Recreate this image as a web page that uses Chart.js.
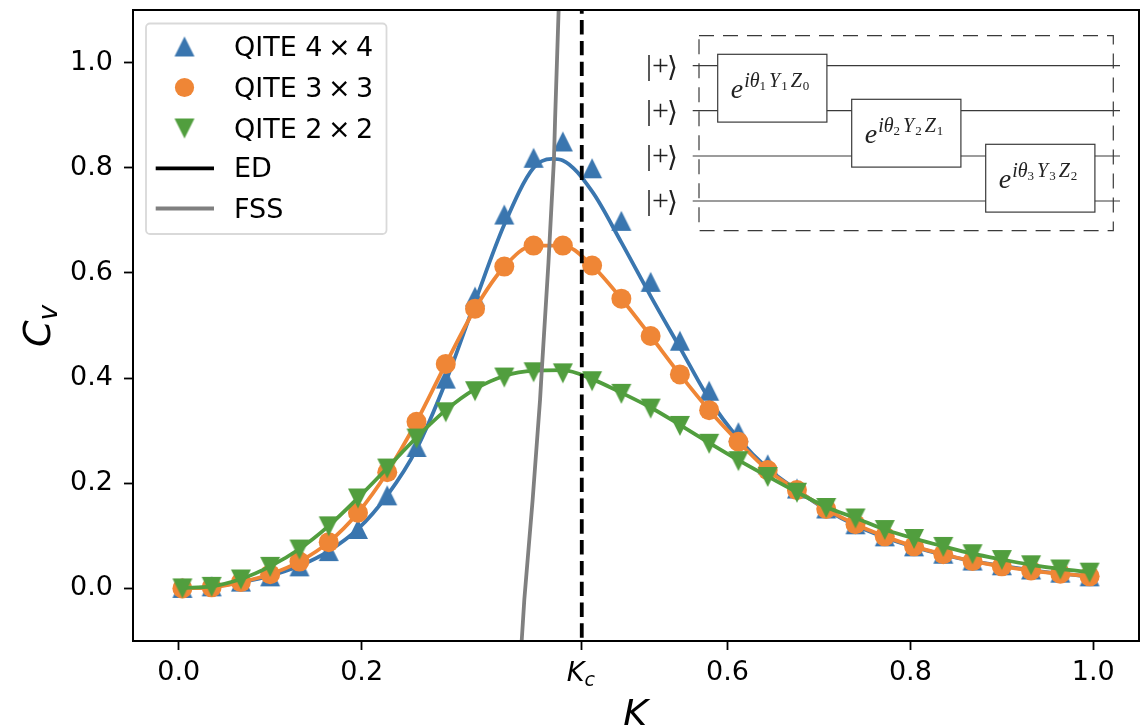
<!DOCTYPE html>
<html>
<head>
<meta charset="utf-8">
<title>Cv vs K</title>
<script src="https://cdn.jsdelivr.net/npm/chart.js@4/dist/chart.umd.js"></script>
<style>
  html, body { margin: 0; padding: 0; background: #fff; }
  canvas { display: block; }
</style>
</head>
<body>
<canvas id="cvChart" width="1148" height="725"></canvas>
<script>
// values
const kValues = [0.004, 0.036, 0.068, 0.100, 0.132, 0.164, 0.196, 0.228, 0.260, 0.292, 0.324,
  0.356, 0.388, 0.420, 0.452, 0.484, 0.516, 0.548, 0.580, 0.612, 0.644, 0.676,
  0.708, 0.740, 0.772, 0.804, 0.836, 0.868, 0.900, 0.932, 0.964, 0.996];

const qite4 = [0.001, 0.004, 0.013, 0.023, 0.042, 0.071, 0.113, 0.177, 0.269, 0.399, 0.555,
  0.711, 0.819, 0.850, 0.799, 0.699, 0.583, 0.471, 0.376, 0.297, 0.236, 0.190,
  0.152, 0.122, 0.099, 0.080, 0.066, 0.053, 0.044, 0.036, 0.030, 0.023];
const qite3 = [0.000, 0.002, 0.012, 0.027, 0.051, 0.088, 0.144, 0.221, 0.317, 0.427, 0.532,
  0.612, 0.652, 0.652, 0.614, 0.551, 0.480, 0.407, 0.339, 0.279, 0.225, 0.187,
  0.151, 0.122, 0.099, 0.080, 0.065, 0.052, 0.042, 0.034, 0.028, 0.023];
const qite2 = [0.000, 0.003, 0.017, 0.041, 0.074, 0.118, 0.171, 0.228, 0.285, 0.335, 0.375,
  0.401, 0.411, 0.409, 0.394, 0.370, 0.342, 0.309, 0.275, 0.242, 0.212, 0.182,
  0.153, 0.133, 0.111, 0.094, 0.079, 0.065, 0.054, 0.044, 0.036, 0.030];

// exact diagonalisation curves
const edK4 = [0.004, 0.036, 0.068, 0.100, 0.132, 0.164, 0.196, 0.228, 0.260, 0.292, 0.324,
  0.356, 0.388, 0.408, 0.420, 0.452, 0.484, 0.516, 0.548, 0.580, 0.612, 0.644, 0.676,
  0.708, 0.740, 0.772, 0.804, 0.836, 0.868, 0.900, 0.932, 0.964, 0.996];
const ed4 = [0.000, 0.003, 0.012, 0.024, 0.043, 0.071, 0.113, 0.177, 0.265, 0.393, 0.545,
  0.692, 0.800, 0.817, 0.814, 0.755, 0.658, 0.556, 0.458, 0.360, 0.285, 0.228, 0.187,
  0.150, 0.120, 0.097, 0.079, 0.064, 0.052, 0.043, 0.035, 0.028, 0.023];
const ed3 = qite3;
const ed2 = [0.001, 0.004, 0.018, 0.042, 0.075, 0.119, 0.172, 0.229, 0.287, 0.339, 0.379,
  0.404, 0.414, 0.415, 0.398, 0.372, 0.344, 0.311, 0.277, 0.244, 0.213, 0.183,
  0.155, 0.134, 0.112, 0.095, 0.080, 0.066, 0.055, 0.045, 0.037, 0.031];

// finite size scaling line, K as a function of Cv
const fssK = [0.375, 0.3779, 0.387, 0.3951, 0.3968, 0.4043, 0.4103, 0.4115, 0.4154];
const fssCv = [-0.1, -0.021, 0.169, 0.359, 0.41, 0.62, 0.817, 0.89, 1.1];

const kCritical = 0.4407;
const xTicks = [0, 0.2, kCritical, 0.6, 0.8, 1.0];
const xTickLabels = ["0.0", "0.2", "", "0.6", "0.8", "1.0"];
const yTicks = [0, 0.2, 0.4, 0.6, 0.8, 1.0];
const legendLabels = ["QITE 4\u2009×\u20094", "QITE 3\u2009×\u20093", "QITE 2\u2009×\u20092", "ED", "FSS"];

const BLUE = "#3a76af";
const ORANGE = "#ef8636";
const GREEN = "#519e3e";
const GRAY = "#808080";
const SANS = "'DejaVu Sans'";

function toPoints(xs, ys) {
  return xs.map((x, i) => ({ x: x, y: ys[i] }));
}

// triangle markers, as wide as they are tall and centred like the originals
function triangleMarker(color, up) {
  const c = document.createElement("canvas");
  c.width = 22;
  c.height = 22;
  const g = c.getContext("2d");
  g.fillStyle = color;
  g.beginPath();
  if (up) {
    g.moveTo(11, 1); g.lineTo(21, 21); g.lineTo(1, 21);
  } else {
    g.moveTo(11, 21); g.lineTo(1, 1); g.lineTo(21, 1);
  }
  g.closePath();
  g.fill();
  return c;
}
const markerUp = triangleMarker(BLUE, true);
const markerDown = triangleMarker(GREEN, false);

function lineSet(label, pts, color, order) {
  return {
    label: label, data: pts, order: order,
    showLine: true, pointRadius: 0,
    borderColor: color, borderWidth: 3.8,
    cubicInterpolationMode: "monotone"
  };
}
function markerSet(label, pts, color, style, order) {
  return {
    label: label, data: pts, order: order,
    showLine: false, pointStyle: style, pointRadius: 10,
    pointBackgroundColor: color, pointBorderColor: color, pointBorderWidth: 0
  };
}

// ─── text with sub and superscripts, drawn left to right ───
function drawRuns(ctx, x, y, runs) {
  runs.forEach(r => {
    ctx.font = r.font;
    ctx.fillText(r.t, x, y - (r.up || 0));
    x += ctx.measureText(r.t).width + (r.gap || 0);
  });
}

// ─── axis labels and the Kc tick label ───
const axisText = {
  id: "axisText",
  afterDraw(chart) {
    const ctx = chart.ctx;
    const area = chart.chartArea;
    ctx.save();
    ctx.fillStyle = "#000";
    ctx.textAlign = "left";
    ctx.textBaseline = "alphabetic";

    const kcX = chart.scales.x.getPixelForValue(kCritical);
    drawRuns(ctx, kcX - 15, 680.5, [
      { t: "K", font: "italic 27px " + SANS },
      { t: "c", font: "italic 19px " + SANS, up: -5 }
    ]);

    ctx.font = "italic 38px " + SANS;
    ctx.fillText("K", (area.left + area.right) / 2 - 13, 726);

    ctx.translate(50, 347);
    ctx.rotate(-Math.PI / 2);
    drawRuns(ctx, 0, 0, [
      { t: "C", font: "italic 38px " + SANS },
      { t: "v", font: "italic 26.6px " + SANS, up: -7 }
    ]);
    ctx.restore();
  }
};

// ─── top and right spines ───
const frame = {
  id: "frame",
  afterDatasetsDraw(chart) {
    const a = chart.chartArea;
    const ctx = chart.ctx;
    ctx.save();
    ctx.strokeStyle = "#000";
    ctx.lineWidth = 2;
    ctx.strokeRect(a.left, a.top, a.right - a.left, a.bottom - a.top);
    ctx.restore();
  }
};

// ─── legend box ───
const boxLegend = {
  id: "boxLegend",
  afterDatasetsDraw(chart) {
    const ctx = chart.ctx;
    ctx.save();
    ctx.beginPath();
    ctx.roundRect(146, 23.5, 240.5, 210.5, 4);
    ctx.fillStyle = "rgba(255,255,255,0.8)";
    ctx.fill();
    ctx.strokeStyle = "#d9d9d9";
    ctx.lineWidth = 1.8;
    ctx.stroke();

    const rowY = [46.5, 87.5, 128.5, 168.3, 208.5];
    const mx = 184.5;
    ctx.drawImage(markerUp, mx - 11, rowY[0] - 11);
    ctx.fillStyle = ORANGE;
    ctx.beginPath();
    ctx.arc(mx, rowY[1], 9.6, 0, Math.PI * 2);
    ctx.fill();
    ctx.drawImage(markerDown, mx - 11, rowY[2] - 11);

    ctx.lineWidth = 3.8;
    ctx.strokeStyle = "#000";
    ctx.beginPath(); ctx.moveTo(155.7, rowY[3]); ctx.lineTo(214, rowY[3]); ctx.stroke();
    ctx.strokeStyle = GRAY;
    ctx.beginPath(); ctx.moveTo(155.7, rowY[4]); ctx.lineTo(214, rowY[4]); ctx.stroke();

    ctx.fillStyle = "#000";
    ctx.font = "27px " + SANS;
    ctx.textAlign = "left";
    ctx.textBaseline = "alphabetic";
    legendLabels.forEach((t, i) => ctx.fillText(t, 234, rowY[i] + 9));
    ctx.restore();
  }
};

// ─── circuit inset ───
const wireY = [65.7, 110.7, 156, 201];
const gates = [
  { x: 717.7, y: 54.3, n: "1", a: "Y", b: "1", c: "Z", d: "0" },
  { x: 851.7, y: 99.3, n: "2", a: "Y", b: "2", c: "Z", d: "1" },
  { x: 985.7, y: 144.3, n: "3", a: "Y", b: "3", c: "Z", d: "2" }
];
const circuitInset = {
  id: "circuitInset",
  afterDatasetsDraw(chart) {
    const ctx = chart.ctx;
    ctx.save();
    ctx.strokeStyle = "#3a3a3a";
    ctx.fillStyle = "#222";
    ctx.lineWidth = 1.2;

    ctx.setLineDash([15, 9]);
    ctx.strokeRect(699, 35.7, 414.3, 195);
    ctx.setLineDash([]);

    wireY.forEach(y => {
      ctx.beginPath();
      ctx.moveTo(692.7, y);
      ctx.lineTo(1120, y);
      ctx.stroke();
      ctx.font = "30px 'Liberation Serif'";
      ctx.textBaseline = "alphabetic";
      ctx.fillText("|", 646, y + 9);
      ctx.fillText("+", 652, y + 9);
      ctx.font = "28px " + SANS;
      ctx.fillText("⟩", 667, y + 10);
    });

    gates.forEach(g => {
      ctx.fillStyle = "#fff";
      ctx.fillRect(g.x, g.y, 109.2, 67.8);
      ctx.strokeRect(g.x, g.y, 109.2, 67.8);
      ctx.fillStyle = "#222";
      const big = "italic 28px 'Liberation Serif'";
      const mid = "italic 20px 'Liberation Serif'";
      const low = "13px 'Liberation Serif'";
      drawRuns(ctx, g.x + 13, g.y + 44, [
        { t: "e", font: big, gap: 1 },
        { t: "iθ", font: mid, up: 11 },
        { t: g.n, font: low, up: 8, gap: 3 },
        { t: g.a, font: mid, up: 11, gap: 1 },
        { t: g.b, font: low, up: 8, gap: 3 },
        { t: g.c, font: mid, up: 11, gap: 1 },
        { t: g.d, font: low, up: 8 }
      ]);
    });
    ctx.restore();
  }
};

new Chart(document.getElementById("cvChart"), {
  type: "scatter",
  data: {
    datasets: [
      // larger order is painted first
      lineSet("ED 4 × 4", toPoints(edK4, ed4), BLUE, 8),
      markerSet(legendLabels[0], toPoints(kValues, qite4), BLUE, markerUp, 7),
      lineSet("ED 3 × 3", toPoints(kValues, ed3), ORANGE, 6),
      markerSet(legendLabels[1], toPoints(kValues, qite3), ORANGE, "circle", 5),
      lineSet("ED 2 × 2", toPoints(kValues, ed2), GREEN, 4),
      markerSet(legendLabels[2], toPoints(kValues, qite2), GREEN, markerDown, 3),
      {
        label: legendLabels[4], data: toPoints(fssK, fssCv), order: 2,
        showLine: true, pointRadius: 0, borderColor: GRAY, borderWidth: 3.8
      },
      {
        label: "Kc", data: toPoints([kCritical, kCritical], [-0.1, 1.1]), order: 1,
        showLine: true, pointRadius: 0, borderColor: "#000", borderWidth: 3.8,
        borderDash: [14.4, 6.4], borderDashOffset: 17.5
      }
    ]
  },
  options: {
    responsive: false,
    animation: false,
    layout: { autoPadding: false, padding: { top: 10, right: 9, left: 0, bottom: 0 } },
    plugins: { legend: { display: false }, tooltip: { enabled: false } },
    scales: {
      x: {
        type: "linear", min: -0.05, max: 1.05,
        afterBuildTicks: s => { s.ticks = xTicks.map(v => ({ value: v })); },
        afterFit: s => { s.height = 84; s.paddingLeft = 0; s.paddingRight = 0; },
        grid: { drawOnChartArea: false, drawTicks: true, tickLength: 9, tickWidth: 1.8, tickColor: "#000" },
        border: { display: true, color: "#000", width: 2 },
        ticks: {
          autoSkip: false, maxRotation: 0, padding: 7, color: "#000",
          font: { family: "DejaVu Sans", size: 27 },
          callback: (v, i) => xTickLabels[i]
        }
      },
      y: {
        type: "linear", min: -0.1, max: 1.1,
        afterBuildTicks: s => { s.ticks = yTicks.map(v => ({ value: v })); },
        afterFit: s => { s.width = 133; s.paddingTop = 0; s.paddingBottom = 0; },
        grid: { drawOnChartArea: false, drawTicks: true, tickLength: 9, tickWidth: 1.8, tickColor: "#000" },
        border: { display: true, color: "#000", width: 2 },
        ticks: {
          autoSkip: false, padding: 11, color: "#000",
          font: { family: "DejaVu Sans", size: 27 },
          callback: v => v.toFixed(1)
        }
      }
    }
  },
  plugins: [frame, circuitInset, boxLegend, axisText]
});
</script>
</body>
</html>
